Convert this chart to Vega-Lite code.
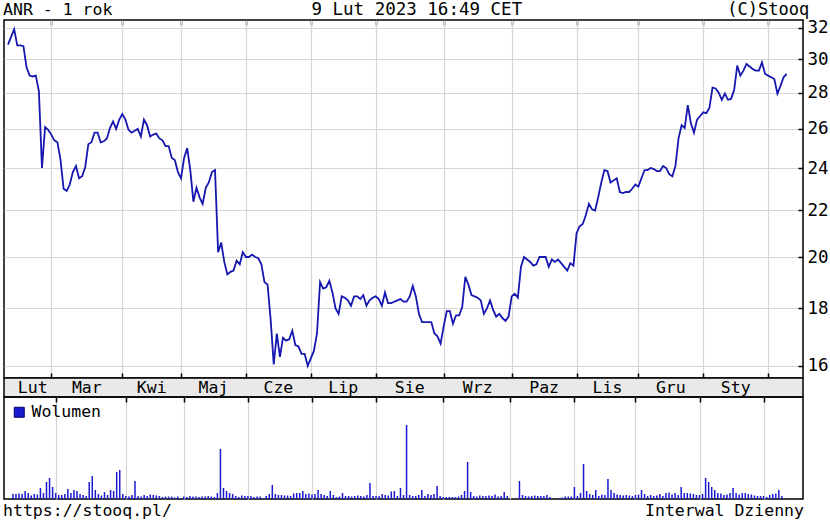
{
  "$schema": "https://vega.github.io/schema/vega-lite/v6.json",
  "background": "white",
  "padding": {"left": 3, "top": 0, "right": 0, "bottom": 0},
  "spacing": 0,
  "bounds": "flush",
  "resolve": {"legend": {"color": "independent"}, "scale": {"color": "independent"}},
  "config": {
    "view": {"stroke": null},
    "font": "DejaVu Sans Mono",
    "text": {"font": "DejaVu Sans Mono", "fontSize": 16.5, "color": "black"},
    "axis": {"labelFont": "DejaVu Sans Mono", "labelColor": "black", "title": null, "domain": false}
  },
  "datasets": {
    "price": [
      {"d":0,"c":30.9},{"d":1,"c":31.4},{"d":2,"c":31.9},{"d":3,"c":30.85},{"d":4,"c":30.85},{"d":5,"c":30.8},{"d":6,"c":29.5},{"d":7,"c":29.0},{"d":8,"c":28.95},{"d":9,"c":29.0},
      {"d":10,"c":28.1},{"d":11,"c":24.0},{"d":12,"c":26.1},{"d":13,"c":25.95},{"d":14,"c":25.7},{"d":15,"c":25.4},{"d":16,"c":25.3},{"d":17,"c":24.4},{"d":18,"c":23.0},{"d":19,"c":22.9},
      {"d":20,"c":23.2},{"d":21,"c":23.8},{"d":22,"c":24.1},{"d":23,"c":23.5},{"d":24,"c":23.6},{"d":25,"c":24.05},{"d":26,"c":25.2},{"d":27,"c":25.3},{"d":28,"c":25.8},{"d":29,"c":25.8},
      {"d":30,"c":25.3},{"d":31,"c":25.35},{"d":32,"c":25.5},{"d":33,"c":26.05},{"d":34,"c":26.4},{"d":35,"c":26.0},{"d":36,"c":26.5},{"d":37,"c":26.8},{"d":38,"c":26.5},{"d":39,"c":25.95},
      {"d":40,"c":25.8},{"d":41,"c":25.9},{"d":42,"c":26.0},{"d":43,"c":25.6},{"d":44,"c":26.5},{"d":45,"c":26.2},{"d":46,"c":25.6},{"d":47,"c":25.7},{"d":48,"c":25.75},{"d":49,"c":25.5},
      {"d":50,"c":25.4},{"d":51,"c":25.1},{"d":52,"c":25.1},{"d":53,"c":24.5},{"d":54,"c":24.4},{"d":55,"c":23.8},{"d":56,"c":23.5},{"d":57,"c":24.5},{"d":58,"c":25.0},{"d":59,"c":23.9},
      {"d":60,"c":22.4},{"d":61,"c":23.05},{"d":62,"c":22.6},{"d":63,"c":22.3},{"d":64,"c":23.05},{"d":65,"c":23.3},{"d":66,"c":23.8},{"d":67,"c":23.9},{"d":68,"c":20.2},{"d":69,"c":20.6},
      {"d":70,"c":19.8},{"d":71,"c":19.3},{"d":72,"c":19.4},{"d":73,"c":19.45},{"d":74,"c":19.85},{"d":75,"c":19.7},{"d":76,"c":20.2},{"d":77,"c":20.0},{"d":78,"c":20.0},{"d":79,"c":20.1},
      {"d":80,"c":20.0},{"d":81,"c":19.95},{"d":82,"c":19.7},{"d":83,"c":19.0},{"d":84,"c":18.9},{"d":85,"c":17.6},{"d":86,"c":16.05},{"d":87,"c":17.1},{"d":88,"c":16.3},{"d":89,"c":16.95},
      {"d":90,"c":16.85},{"d":91,"c":16.9},{"d":92,"c":17.2},{"d":93,"c":16.7},{"d":94,"c":16.65},{"d":95,"c":16.4},{"d":96,"c":16.4},{"d":97,"c":16.0},{"d":98,"c":16.25},{"d":99,"c":16.5},
      {"d":100,"c":17.1},{"d":101,"c":19.0},{"d":102,"c":18.75},{"d":103,"c":18.8},{"d":104,"c":19.05},{"d":105,"c":18.6},{"d":106,"c":18.0},{"d":107,"c":17.8},{"d":108,"c":18.45},{"d":109,"c":18.4},
      {"d":110,"c":18.3},{"d":111,"c":18.1},{"d":112,"c":18.45},{"d":113,"c":18.45},{"d":114,"c":18.35},{"d":115,"c":18.5},{"d":116,"c":18.1},{"d":117,"c":18.3},{"d":118,"c":18.4},{"d":119,"c":18.45},
      {"d":120,"c":18.35},{"d":121,"c":18.1},{"d":122,"c":18.6},{"d":123,"c":18.2},{"d":124,"c":18.2},{"d":125,"c":18.25},{"d":126,"c":18.3},{"d":127,"c":18.35},{"d":128,"c":18.25},{"d":129,"c":18.25},
      {"d":130,"c":18.45},{"d":131,"c":18.85},{"d":132,"c":18.45},{"d":133,"c":17.8},{"d":134,"c":17.5},{"d":135,"c":17.5},{"d":136,"c":17.5},{"d":137,"c":17.5},{"d":138,"c":17.1},{"d":139,"c":17.0},
      {"d":140,"c":16.75},{"d":141,"c":17.35},{"d":142,"c":17.9},{"d":143,"c":17.9},{"d":144,"c":17.45},{"d":145,"c":17.75},{"d":146,"c":17.75},{"d":147,"c":18.05},{"d":148,"c":19.2},{"d":149,"c":18.9},
      {"d":150,"c":18.5},{"d":151,"c":18.45},{"d":152,"c":18.4},{"d":153,"c":18.3},{"d":154,"c":17.8},{"d":155,"c":18.0},{"d":156,"c":18.3},{"d":157,"c":17.95},{"d":158,"c":17.7},{"d":159,"c":17.8},
      {"d":160,"c":17.65},{"d":161,"c":17.55},{"d":162,"c":17.7},{"d":163,"c":18.45},{"d":164,"c":18.55},{"d":165,"c":18.4},{"d":166,"c":19.6},{"d":167,"c":20.0},{"d":168,"c":19.9},{"d":169,"c":19.8},
      {"d":170,"c":19.65},{"d":171,"c":19.7},{"d":172,"c":20.0},{"d":173,"c":20.0},{"d":174,"c":20.0},{"d":175,"c":19.6},{"d":176,"c":19.9},{"d":177,"c":19.8},{"d":178,"c":19.9},{"d":179,"c":19.75},
      {"d":180,"c":19.6},{"d":181,"c":19.45},{"d":182,"c":19.75},{"d":183,"c":19.65},{"d":184,"c":21.0},{"d":185,"c":21.3},{"d":186,"c":21.4},{"d":187,"c":21.8},{"d":188,"c":22.3},{"d":189,"c":22.05},
      {"d":190,"c":22.0},{"d":191,"c":22.6},{"d":192,"c":23.3},{"d":193,"c":23.9},{"d":194,"c":23.85},{"d":195,"c":23.3},{"d":196,"c":23.4},{"d":197,"c":23.5},{"d":198,"c":22.85},{"d":199,"c":22.8},
      {"d":200,"c":22.85},{"d":201,"c":22.85},{"d":202,"c":23.0},{"d":203,"c":23.2},{"d":204,"c":23.1},{"d":205,"c":23.5},{"d":206,"c":23.9},{"d":207,"c":23.9},{"d":208,"c":24.0},{"d":209,"c":23.95},
      {"d":210,"c":23.85},{"d":211,"c":23.85},{"d":212,"c":24.1},{"d":213,"c":24.0},{"d":214,"c":23.7},{"d":215,"c":23.6},{"d":216,"c":24.1},{"d":217,"c":25.5},{"d":218,"c":26.2},{"d":219,"c":26.05},
      {"d":220,"c":27.3},{"d":221,"c":26.3},{"d":222,"c":25.8},{"d":223,"c":26.5},{"d":224,"c":26.7},{"d":225,"c":26.9},{"d":226,"c":26.85},{"d":227,"c":27.15},{"d":228,"c":28.3},{"d":229,"c":28.25},
      {"d":230,"c":28.0},{"d":231,"c":27.6},{"d":232,"c":27.95},{"d":233,"c":27.6},{"d":234,"c":27.65},{"d":235,"c":28.15},{"d":236,"c":29.6},{"d":237,"c":29.0},{"d":238,"c":29.3},{"d":239,"c":29.7},
      {"d":240,"c":29.55},{"d":241,"c":29.4},{"d":242,"c":29.3},{"d":243,"c":29.3},{"d":244,"c":29.8},{"d":245,"c":29.1},{"d":246,"c":29.0},{"d":247,"c":28.9},{"d":248,"c":28.8},{"d":249,"c":27.95},
      {"d":250,"c":28.4},{"d":251,"c":28.9},{"d":252,"c":29.1}
    ],
    "vol": [
      {"d":0,"v":5000},{"d":1,"v":5000},{"d":2,"v":5500},{"d":3,"v":5000},{"d":4,"v":8000},{"d":5,"v":6000},{"d":6,"v":3500},{"d":7,"v":5000},{"d":8,"v":4500},{"d":9,"v":11000},
      {"d":10,"v":6000},{"d":11,"v":17000},{"d":12,"v":21000},{"d":13,"v":12000},{"d":14,"v":6000},{"d":15,"v":4000},{"d":16,"v":4000},{"d":17,"v":5000},{"d":18,"v":10000},{"d":19,"v":6000},
      {"d":20,"v":9000},{"d":21,"v":8000},{"d":22,"v":5000},{"d":23,"v":4000},{"d":24,"v":3000},{"d":25,"v":17000},{"d":26,"v":23000},{"d":27,"v":9000},{"d":28,"v":5000},{"d":29,"v":3500},
      {"d":30,"v":7000},{"d":31,"v":4000},{"d":32,"v":9000},{"d":33,"v":8000},{"d":34,"v":27000},{"d":35,"v":29000},{"d":36,"v":5000},{"d":37,"v":3000},{"d":38,"v":2500},{"d":39,"v":4000},
      {"d":40,"v":18000},{"d":41,"v":3000},{"d":42,"v":2500},{"d":43,"v":4000},{"d":44,"v":3000},{"d":45,"v":4500},{"d":46,"v":4000},{"d":47,"v":3500},{"d":48,"v":3000},{"d":49,"v":2000},
      {"d":50,"v":2500},{"d":51,"v":2500},{"d":52,"v":2500},{"d":53,"v":1500},{"d":54,"v":2500},{"d":55,"v":500},{"d":56,"v":2500},{"d":57,"v":2000},{"d":58,"v":3000},{"d":59,"v":2500},
      {"d":60,"v":2500},{"d":61,"v":2000},{"d":62,"v":2500},{"d":63,"v":2500},{"d":64,"v":3000},{"d":65,"v":2500},{"d":66,"v":2000},{"d":67,"v":6000},{"d":68,"v":50000},{"d":69,"v":11000},
      {"d":70,"v":8000},{"d":71,"v":6000},{"d":72,"v":5000},{"d":73,"v":3000},{"d":74,"v":2000},{"d":75,"v":3500},{"d":76,"v":3000},{"d":77,"v":3000},{"d":78,"v":3000},{"d":79,"v":2000},
      {"d":80,"v":2500},{"d":81,"v":2500},{"d":82,"v":500},{"d":83,"v":3000},{"d":84,"v":5000},{"d":85,"v":14000},{"d":86,"v":5000},{"d":87,"v":4000},{"d":88,"v":4000},{"d":89,"v":3500},
      {"d":90,"v":3500},{"d":91,"v":3000},{"d":92,"v":5500},{"d":93,"v":6000},{"d":94,"v":6000},{"d":95,"v":8000},{"d":96,"v":5000},{"d":97,"v":5500},{"d":98,"v":4500},{"d":99,"v":5000},
      {"d":100,"v":9000},{"d":101,"v":5000},{"d":102,"v":4000},{"d":103,"v":3000},{"d":104,"v":8000},{"d":105,"v":4000},{"d":106,"v":2000},{"d":107,"v":2500},{"d":108,"v":6000},{"d":109,"v":3000},
      {"d":110,"v":3000},{"d":111,"v":2500},{"d":112,"v":3000},{"d":113,"v":3500},{"d":114,"v":3000},{"d":115,"v":2500},{"d":116,"v":4000},{"d":117,"v":16000},{"d":118,"v":3000},{"d":119,"v":3000},
      {"d":120,"v":3000},{"d":121,"v":5000},{"d":122,"v":4000},{"d":123,"v":3500},{"d":124,"v":7500},{"d":125,"v":8000},{"d":126,"v":3000},{"d":127,"v":11000},{"d":128,"v":4000},{"d":129,"v":74000},
      {"d":130,"v":4000},{"d":131,"v":3000},{"d":132,"v":3000},{"d":133,"v":4000},{"d":134,"v":9000},{"d":135,"v":3000},{"d":136,"v":5000},{"d":137,"v":4000},{"d":138,"v":5000},{"d":139,"v":13000},
      {"d":140,"v":3000},{"d":141,"v":2000},{"d":142,"v":2000},{"d":143,"v":2000},{"d":144,"v":2000},{"d":145,"v":2000},{"d":146,"v":2500},{"d":147,"v":4000},{"d":148,"v":8000},{"d":149,"v":37000},
      {"d":150,"v":7000},{"d":151,"v":3000},{"d":152,"v":2500},{"d":153,"v":3500},{"d":154,"v":3000},{"d":155,"v":3000},{"d":156,"v":3500},{"d":157,"v":3000},{"d":158,"v":4500},{"d":159,"v":2500},
      {"d":160,"v":3000},{"d":161,"v":7000},{"d":162,"v":3000},{"d":163,"v":0},{"d":164,"v":0},{"d":165,"v":500},{"d":166,"v":18000},{"d":167,"v":4000},{"d":168,"v":3000},{"d":169,"v":2500},
      {"d":170,"v":3000},{"d":171,"v":3500},{"d":172,"v":3000},{"d":173,"v":3000},{"d":174,"v":3000},{"d":175,"v":4000},{"d":176,"v":2000},{"d":177,"v":0},{"d":178,"v":0},{"d":179,"v":1000},
      {"d":180,"v":1500},{"d":181,"v":2500},{"d":182,"v":2500},{"d":183,"v":2500},{"d":184,"v":12000},{"d":185,"v":3000},{"d":186,"v":6000},{"d":187,"v":35000},{"d":188,"v":8000},{"d":189,"v":5000},
      {"d":190,"v":4000},{"d":191,"v":9000},{"d":192,"v":3000},{"d":193,"v":4500},{"d":194,"v":4000},{"d":195,"v":20000},{"d":196,"v":9000},{"d":197,"v":6000},{"d":198,"v":4500},{"d":199,"v":4000},
      {"d":200,"v":3500},{"d":201,"v":4000},{"d":202,"v":3500},{"d":203,"v":3000},{"d":204,"v":4000},{"d":205,"v":4500},{"d":206,"v":9000},{"d":207,"v":5000},{"d":208,"v":3000},{"d":209,"v":4000},
      {"d":210,"v":3000},{"d":211,"v":3500},{"d":212,"v":5000},{"d":213,"v":3000},{"d":214,"v":6000},{"d":215,"v":6500},{"d":216,"v":4500},{"d":217,"v":6000},{"d":218,"v":4000},{"d":219,"v":12000},
      {"d":220,"v":6000},{"d":221,"v":6000},{"d":222,"v":5500},{"d":223,"v":5000},{"d":224,"v":4000},{"d":225,"v":4000},{"d":226,"v":5000},{"d":227,"v":21000},{"d":228,"v":17000},{"d":229,"v":12000},
      {"d":230,"v":9000},{"d":231,"v":6000},{"d":232,"v":5500},{"d":233,"v":4000},{"d":234,"v":4500},{"d":235,"v":6000},{"d":236,"v":11000},{"d":237,"v":6000},{"d":238,"v":4500},{"d":239,"v":6000},
      {"d":240,"v":6000},{"d":241,"v":5000},{"d":242,"v":4500},{"d":243,"v":3500},{"d":244,"v":3000},{"d":245,"v":3000},{"d":246,"v":3000},{"d":247,"v":2000},{"d":248,"v":4000},{"d":249,"v":5000},
      {"d":250,"v":5500},{"d":251,"v":9000},{"d":252,"v":3000}
    ],
    "months": [
      {"m":"Lut","mid":8},{"m":"Mar","mid":25.5},{"m":"Kwi","mid":46.5},{"m":"Maj","mid":66.5},{"m":"Cze","mid":87.5},{"m":"Lip","mid":108.5},
      {"m":"Sie","mid":130},{"m":"Wrz","mid":152},{"m":"Paz","mid":173.5},{"m":"Lis","mid":194},{"m":"Gru","mid":214.5},{"m":"Sty","mid":235.5}
    ]
  },
  "vconcat": [
    {
      "width": 799,
      "height": 20,
      "data": {"values": [{"t": "ANR - 1 rok", "p": -1.6, "k": "l"}, {"t": "9 Lut 2023 16:49 CET", "p": 132.3, "k": "c"}, {"t": "(C)Stooq", "p": 259.3, "k": "r"}]},
      "layer": [
        {
          "transform": [{"filter": "datum.k == 'l'"}],
          "mark": {"type": "text", "align": "left", "baseline": "middle"},
          "encoding": {
            "x": {"field": "p", "type": "quantitative", "scale": {"domain": [-1.29, 257.28], "nice": false, "zero": false},
                  "axis": {"orient": "bottom", "values": [14,37,56,77,98,119,141,163,184,204,225,246], "labels": false, "grid": false, "ticks": true, "tickSize": 5, "tickColor": "black", "tickWidth": 1.5}},
            "text": {"field": "t"}
          }
        },
        {
          "transform": [{"filter": "datum.k == 'c'"}],
          "mark": {"type": "text", "align": "center", "baseline": "middle", "fontSize": 17.5},
          "encoding": {"x": {"field": "p", "type": "quantitative"}, "text": {"field": "t"}}
        },
        {
          "transform": [{"filter": "datum.k == 'r'"}],
          "mark": {"type": "text", "align": "right", "baseline": "middle", "fontSize": 17},
          "encoding": {"x": {"field": "p", "type": "quantitative"}, "text": {"field": "t"}}
        }
      ]
    },
    {
      "width": 799,
      "height": 358,
      "view": {"stroke": "black", "strokeWidth": 1.5},
      "data": {"name": "price"},
      "mark": {"type": "line", "color": "#1616b0", "strokeWidth": 1.8},
      "encoding": {
        "x": {"field": "d", "type": "quantitative", "scale": {"domain": [-1.29, 257.28], "nice": false, "zero": false},
              "axis": {"values": [14,37,56,77,98,119,141,163,184,204,225,246], "labels": false, "ticks": false, "grid": true, "gridColor": "#d6d6d6", "gridWidth": 1.2}},
        "y": {"field": "c", "type": "quantitative", "scale": {"type": "log", "domain": [15.61, 32.5], "nice": false},
              "axis": {"orient": "right", "values": [16,18,20,22,24,26,28,30,32], "grid": true, "gridColor": "#d6d6d6", "gridWidth": 1.2,
                       "ticks": true, "tickSize": -5, "tickColor": "black", "tickWidth": 1.5, "labelPadding": 9, "labelFontSize": 17.5}}
      }
    },
    {
      "width": 799,
      "height": 19,
      "view": {"stroke": "black", "strokeWidth": 1.5, "fill": "#e9e9e9"},
      "data": {"name": "months"},
      "mark": {"type": "text", "baseline": "middle", "align": "center"},
      "encoding": {
        "x": {"field": "mid", "type": "quantitative", "scale": {"domain": [-1.29, 257.28], "nice": false, "zero": false},
              "axis": {"orient": "top", "values": [14,37,56,77,98,119,141,163,184,204,225,246], "labels": false, "grid": false, "ticks": true, "tickSize": 5, "tickColor": "black", "tickWidth": 1.5}},
        "text": {"field": "m"}
      }
    },
    {
      "width": 799,
      "height": 102,
      "view": {"stroke": "black", "strokeWidth": 1.5},
      "data": {"name": "vol"},
      "mark": {"type": "bar", "size": 1.5},
      "encoding": {
        "x": {"field": "d", "type": "quantitative", "scale": {"domain": [-1.29, 257.28], "nice": false, "zero": false},
              "axis": {"orient": "top", "values": [14,37,56,77,98,119,141,163,184,204,225,246], "labels": false, "grid": true, "gridColor": "#d6d6d6", "gridWidth": 1.2, "ticks": true, "tickSize": -5, "tickColor": "black", "tickWidth": 1.5}},
        "y": {"field": "v", "type": "quantitative", "scale": {"domain": [0, 102000], "nice": false}, "axis": null},
        "color": {"datum": "Wolumen", "type": "nominal", "scale": {"range": ["#1a1ad0"]},
                  "legend": {"orient": "top-left", "title": null, "symbolType": "square", "symbolSize": 100, "symbolStrokeColor": "#000066", "symbolStrokeWidth": 1,
                             "labelFont": "DejaVu Sans Mono", "labelFontSize": 16.5, "labelColor": "black", "offset": 7, "padding": 0, "labelOffset": 4}}
      }
    },
    {
      "width": 799,
      "height": 24,
      "data": {"values": [{"t": "https://stooq.pl/", "p": -1.6, "k": "l"}, {"t": "Interwal Dzienny", "p": 257.6, "k": "r"}]},
      "layer": [
        {
          "transform": [{"filter": "datum.k == 'l'"}],
          "mark": {"type": "text", "align": "left", "baseline": "middle"},
          "encoding": {"x": {"field": "p", "type": "quantitative", "scale": {"domain": [-1.29, 257.28], "nice": false, "zero": false}, "axis": null}, "text": {"field": "t"}}
        },
        {
          "transform": [{"filter": "datum.k == 'r'"}],
          "mark": {"type": "text", "align": "right", "baseline": "middle"},
          "encoding": {"x": {"field": "p", "type": "quantitative"}, "text": {"field": "t"}}
        }
      ]
    }
  ]
}
